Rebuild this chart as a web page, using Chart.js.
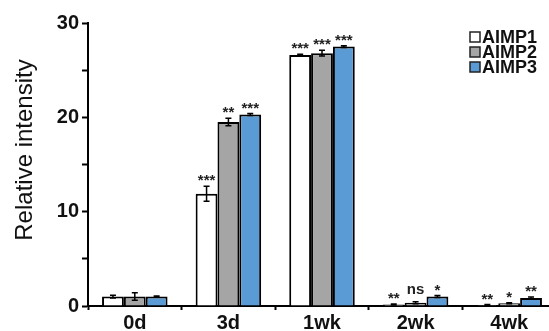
<!DOCTYPE html>
<html>
<head>
<meta charset="utf-8">
<script src="https://cdn.jsdelivr.net/npm/chart.js@4.4.0/dist/chart.umd.min.js"></script>
<style>
  html, body { margin: 0; background: #ffffff; overflow: hidden; }
  #wrap { width: 556px; height: 331px; position: relative; }
</style>
</head>
<body>
<div id="wrap"><canvas id="intensityChart"></canvas></div>
<script>
// Time points and series
const timePoints = ['0d', '3d', '1wk', '2wk', '4wk'];
const seriesNames = ['AIMP1', 'AIMP2', 'AIMP3'];

const aimp1Values = [1.0, 11.9, 26.6, 0.15, 0.1];
const aimp2Values = [1.0, 19.5, 26.8, 0.35, 0.3];
const aimp3Values = [1.0, 20.3, 27.5, 1.0, 0.85];

const aimp1Errors = [0.15, 0.8, 0.1, 0.05, 0.05];
const aimp2Errors = [0.4, 0.4, 0.3, 0.1, 0.05];
const aimp3Errors = [0.05, 0.1, 0.1, 0.1, 0.1];

const aimp1Marks = ['', '***', '***', '**', '**'];
const aimp2Marks = ['', '**', '***', 'ns', '*'];
const aimp3Marks = ['', '***', '***', '*', '**'];

const yTicks = [0, 10, 20, 30];
const yTitle = 'Relative intensity';

// Colours
const colors = {
  aimp1: '#ffffff',
  aimp2: '#a5a5a5',
  aimp3: '#5b9bd5',
  ink: '#000000'
};

const FONT = 'Liberation Sans, Arial, sans-serif';

const errorsBySeries = [aimp1Errors, aimp2Errors, aimp3Errors];
const marksBySeries = [aimp1Marks, aimp2Marks, aimp3Marks];

// Error bars + significance marks drawn over each bar
const annotatePlugin = {
  id: 'annotate',
  afterDatasetsDraw(chart) {
    const ctx = chart.ctx;
    const yScale = chart.scales.y;
    ctx.save();
    chart.data.datasets.forEach((ds, i) => {
      const meta = chart.getDatasetMeta(i);
      meta.data.forEach((bar, j) => {
        const v = ds.data[j];
        const err = errorsBySeries[i][j];
        const yTop = yScale.getPixelForValue(v + err);
        const yBot = yScale.getPixelForValue(Math.max(0, v - err));
        const x = bar.x;
        ctx.strokeStyle = colors.ink;
        ctx.lineWidth = 1.5;
        ctx.beginPath();
        ctx.moveTo(x, yTop); ctx.lineTo(x, yBot);
        ctx.moveTo(x - 3, yTop); ctx.lineTo(x + 3, yTop);
        ctx.moveTo(x - 3, yBot); ctx.lineTo(x + 3, yBot);
        ctx.stroke();

        const mark = marksBySeries[i][j];
        if (mark) {
          ctx.fillStyle = '#222222';
          ctx.textAlign = 'center';
          ctx.textBaseline = 'alphabetic';
          ctx.font = 'bold 15px ' + FONT;
          const off = mark === 'ns' ? 8 : 1;
          ctx.fillText(mark, x, Math.min(yTop, bar.y) - off);
        }
      });
    });
    ctx.restore();
  }
};

// Legend box in the top right corner + rotated y title
const legendPlugin = {
  id: 'boxLegend',
  afterDraw(chart) {
    const ctx = chart.ctx;
    ctx.save();
    chart.data.datasets.forEach((ds, i) => {
      const cy = 37 + i * 15;
      ctx.fillStyle = ds.backgroundColor;
      ctx.fillRect(470, cy - 5, 10, 10);
      ctx.strokeStyle = '#222222';
      ctx.lineWidth = 1.5;
      ctx.strokeRect(470, cy - 5, 10, 10);
      ctx.fillStyle = '#111111';
      ctx.font = 'bold 18px ' + FONT;
      ctx.textAlign = 'left';
      ctx.textBaseline = 'middle';
      ctx.fillText(ds.label, 482, cy + 1);
    });

    ctx.translate(25, 150);
    ctx.rotate(-Math.PI / 2);
    ctx.fillStyle = '#111111';
    ctx.font = '24px ' + FONT;
    ctx.textAlign = 'center';
    ctx.textBaseline = 'middle';
    ctx.fillText(yTitle, 0, 0);
    ctx.restore();
  }
};

new Chart(document.getElementById('intensityChart'), {
  type: 'bar',
  data: {
    labels: timePoints,
    datasets: [
      { label: seriesNames[0], data: aimp1Values, backgroundColor: colors.aimp1 },
      { label: seriesNames[1], data: aimp2Values, backgroundColor: colors.aimp2 },
      { label: seriesNames[2], data: aimp3Values, backgroundColor: colors.aimp3 }
    ].map(ds => Object.assign(ds, {
      borderColor: colors.ink,
      borderWidth: 2,
      borderSkipped: 'bottom',
      categoryPercentage: 0.7,
      barPercentage: 1.0
    }))
  },
  options: {
    responsive: true,
    maintainAspectRatio: false,
    animation: false,
    layout: { padding: { top: 23, right: 0, left: 0, bottom: 0 } },
    plugins: {
      legend: { display: false },
      tooltip: { enabled: false }
    },
    scales: {
      x: {
        grid: { display: true, drawOnChartArea: false, offset: true, tickLength: 4, tickColor: colors.ink, tickWidth: 2 },
        border: { display: true, color: colors.ink, width: 2 },
        ticks: {
          color: '#111111',
          padding: 1,
          font: { family: FONT, size: 20, weight: 'bold' }
        },
        afterFit: scale => { scale.height = 25; }
      },
      y: {
        min: 0,
        max: 30,
        grid: { display: true, drawOnChartArea: false, tickLength: 6, tickColor: colors.ink, tickWidth: 2 },
        border: { display: true, color: colors.ink, width: 2 },
        ticks: {
          stepSize: 5,
          padding: 3,
          color: '#111111',
          font: { family: FONT, size: 20, weight: 'bold' },
          callback: v => yTicks.includes(v) ? String(v) : ''
        },
        afterFit: scale => { scale.width = 88; }
      }
    }
  },
  plugins: [annotatePlugin, legendPlugin]
});
</script>
</body>
</html>
